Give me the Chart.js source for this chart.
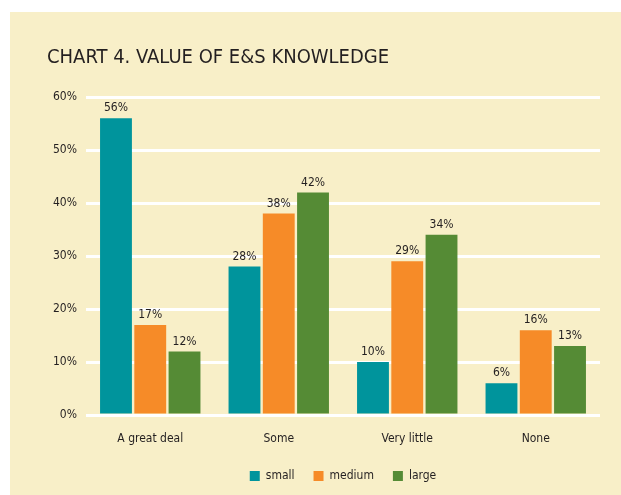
<!DOCTYPE html>
<html>
<head>
<meta charset="utf-8">
<script src="https://cdn.jsdelivr.net/npm/chart.js@4/dist/chart.umd.min.js"></script>
<style>
html,body{margin:0;padding:0;background:#fff;overflow:hidden;}
#panel{position:absolute;left:10px;top:12px;width:611px;height:483px;background:#f8efc8;}
#wrap{position:absolute;left:0;top:0;width:621px;height:492px;}
</style>
</head>
<body>
<div id="panel"></div>
<div id="wrap"><canvas id="c" width="621" height="492"></canvas></div>
<script>
const chartTitle = "CHART 4. VALUE OF E&S KNOWLEDGE";
const categories = ["A great deal", "Some", "Very little", "None"];
const seriesNames = ["small", "medium", "large"];
const smallValues = [56, 28, 10, 6];
const mediumValues = [17, 38, 29, 16];
const largeValues = [12, 42, 34, 13];
const yTicks = [0, 10, 20, 30, 40, 50, 60];

const FONT = "'DejaVu Sans Condensed', 'Liberation Sans Narrow', 'Open Sans', sans-serif";
const colors = ["#00949c", "#f68b28", "#558b35"];

const titlePlugin = {
  id: 'ttl',
  beforeDraw(chart) {
    const ctx = chart.ctx;
    ctx.save();
    ctx.fillStyle = '#231f20';
    ctx.font = "20px " + FONT;
    ctx.textBaseline = 'middle';
    ctx.textAlign = 'left';
    ctx.fillText(chartTitle, 47, 58);
    ctx.restore();
  }
};

const labelPlugin = {
  id: 'vals',
  afterDatasetsDraw(chart) {
    const ctx = chart.ctx;
    ctx.save();
    ctx.fillStyle = '#231f20';
    ctx.font = "12px " + FONT;
    ctx.textAlign = 'center';
    ctx.textBaseline = 'bottom';
    chart.data.datasets.forEach((ds, i) => {
      const meta = chart.getDatasetMeta(i);
      meta.data.forEach((bar, j) => {
        ctx.fillText(ds.data[j] + '%', bar.x, bar.y - 4);
      });
    });
    ctx.restore();
  }
};

new Chart(document.getElementById('c'), {
  type: 'bar',
  data: {
    labels: categories,
    datasets: [
      { label: seriesNames[0], data: smallValues, backgroundColor: colors[0] },
      { label: seriesNames[1], data: mediumValues, backgroundColor: colors[1] },
      { label: seriesNames[2], data: largeValues, backgroundColor: colors[2] }
    ]
  },
  options: {
    responsive: false,
    animation: false,
    devicePixelRatio: 1,
    categoryPercentage: 0.8,
    barPercentage: 0.93,
    layout: { padding: { top: 97, left: 0, right: 21, bottom: 0 } },
    plugins: {
      legend: {
        position: 'bottom',
        fullSize: false,
        labels: {
          boxWidth: 10, boxHeight: 10, padding: 19,
          color: '#231f20',
          font: { family: FONT, size: 12 }
        }
      },
      title: { display: false },
      tooltip: { enabled: false }
    },
    scales: {
      x: {
        grid: { display: false, drawTicks: false },
        border: { display: false },
        afterFit(scale) { scale.height = 36; },
        ticks: { color: '#231f20', padding: 17, font: { family: FONT, size: 12 } }
      },
      y: {
        min: 0, max: 60,
        afterBuildTicks(scale) { scale.ticks = yTicks.map(v => ({ value: v })); },
        afterFit(scale) { scale.width = 86; },
        grid: { color: '#ffffff', lineWidth: 3, drawTicks: false },
        border: { display: false },
        ticks: {
          color: '#231f20', padding: 9,
          font: { family: FONT, size: 12 },
          callback: v => v + '%'
        }
      }
    }
  },
  plugins: [titlePlugin, labelPlugin]
});
</script>
</body>
</html>
